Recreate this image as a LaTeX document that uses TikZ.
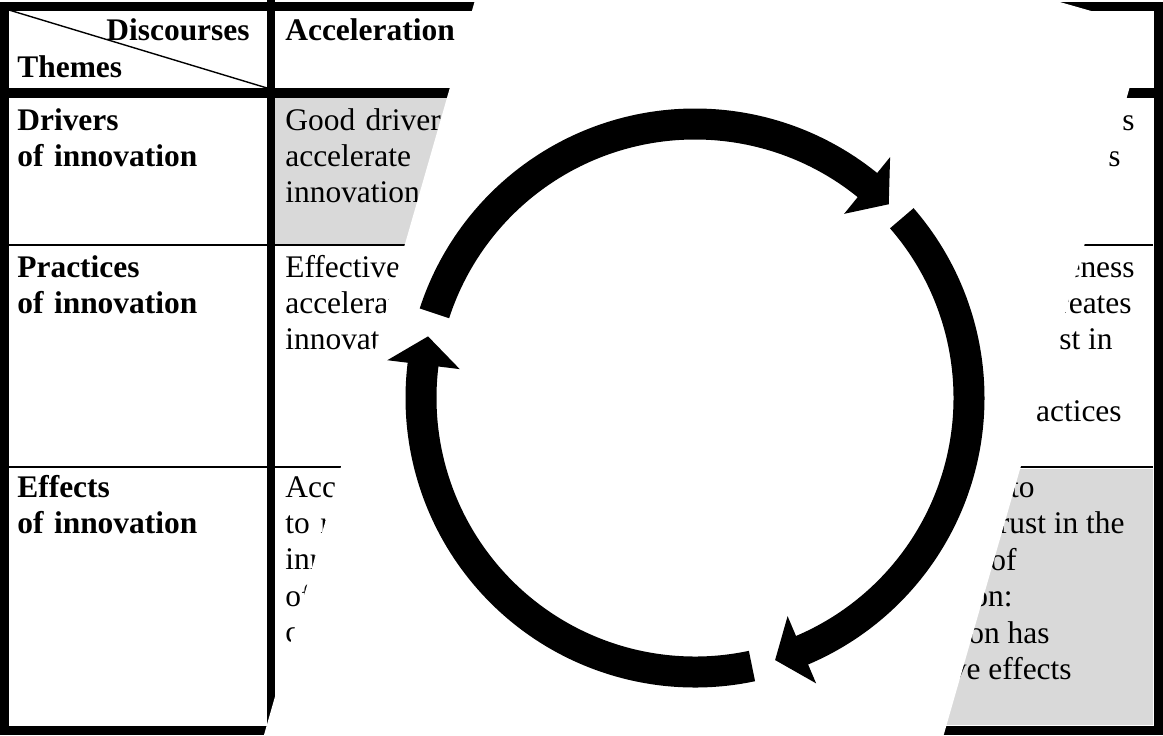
\documentclass[tikz,border=0pt]{standalone}
\usepackage{fontspec}
\setmainfont{Liberation Serif}
\usepackage{tikz}

\newcommand{\cellfont}{\fontsize{17.9}{20.7}\selectfont}
\tikzset{
  cell/.style={anchor=base west, inner sep=0pt, font=\cellfont},
  headcell/.style={cell, font=\cellfont\bfseries},
  cellblock/.style={cell, align=left, text width=#1},
  frag/.style={anchor=base east, inner sep=0pt, font=\cellfont},
}

\begin{document}
\begin{tikzpicture}[x=0.02cm, y=-0.02cm,
    rim/.style={line width=0.18cm},
    rowrule/.style={line width=0.05cm},
    cyclearc/.style={line width=0.62cm}]
\pgfmathsetmacro{\R}{274}  % centre line radius of the cycle, px
\pgfmathsetmacro{\ro}{\R+36}
\pgfmathsetmacro{\ri}{\R-37}
\useasboundingbox (0,0) rectangle (1163,735);
\begin{scope}
\clip (0,0) rectangle (1163,735);
% Shaded cells
\fill[gray!30] (275,98) rectangle (700,244);
\fill[gray!30] (850,469) rectangle (1153,725);
% Rules
\draw[rowrule] (9,245) -- (1153,245);
\draw[rowrule] (9,467) -- (1153,467);
\draw[line width=0.028cm] (9,10) -- (267,88);
\draw[line width=0.16cm] (271,0) -- (271,735);
\draw[line width=0.2cm] (0,93) -- (1163,93);
\draw[rim] (4.5,6) rectangle (1158,730);
% Header
\node[headcell, anchor=base east] (discourses) at (250,40) {Discourses};
\node[headcell] (themes) at (17,77) {Themes};
\node[headcell] (accel) at (285,40) {Acceleration};
% Themes column
\foreach \yb/\lab [count=\n] in {130/Drivers, 277/Practices, 497/Effects} {
  \node[cellblock=4.8cm, font=\cellfont\bfseries] (theme\n) at (17,\yb) {\lab\\of innovation};
}
% Acceleration column
\node[cellblock=4cm] (acc1) at (285,130) {Good driver\\accelerate\\innovation};
\node[cellblock=4cm] (acc2) at (285,277) {Effective\\accelerat\\innovat};
\node[cellblock=4cm] (acc3) at (285,497) {Acc\\to r\\inn\\of\\c};
% Right column, what the overlay leaves
\foreach \xe/\yb/\txt [count=\n] in {1135/130/s, 1121/166/s, 1135/277/eness, 1132/313/reates, 1113/349/st in, 1122/421/ractices, 1035/497/to, 1125/533/rust in the, 1017/570/of, 1013/606/on:, 1050/643/on has, 1072/679/ve effects} {
  \node[frag] (right\n) at (\xe,\yb) {\txt};
}
% Overlay
\fill[white, rounded corners=0.12cm] (519,-153) -- (1147,27) -- (871,988) -- (243,808) -- cycle;
% Cycle
\begin{scope}[shift={(695,398)}, x=0.02cm, y=0.02cm]
\foreach \s/\t in {162/45, 41/-73, -78/-193} {
  \pgfmathsetmacro{\b}{\t+6}
  \draw[cyclearc] (\s:\R) arc[start angle=\s, end angle=\b-1, radius=\R];
  \fill (\b:\ro) -- (\t:\R) -- (\b:\ri) -- cycle;
}
\end{scope}
\end{scope}
\end{tikzpicture}
\end{document}
